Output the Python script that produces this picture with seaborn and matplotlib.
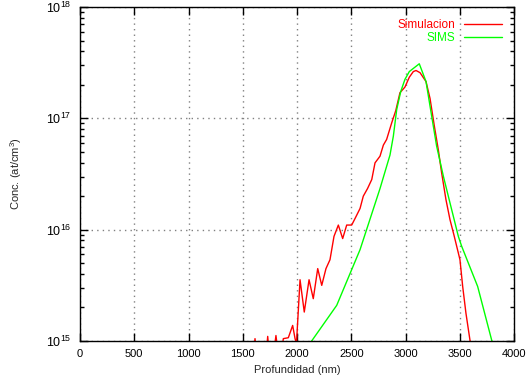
import numpy as np
import pandas as pd
import seaborn as sns
import matplotlib
matplotlib.use('Agg')
import matplotlib.pyplot as plt
from matplotlib.ticker import LogLocator, MultipleLocator, NullFormatter

# Simulacion (profundidad en nm, concentracion en at/cm3)
sim_x = [1580, 1613, 1650, 1700, 1730, 1760, 1806, 1840, 1874, 1920, 1960, 1982, 1995,
         2028, 2067, 2111, 2150, 2191, 2228, 2267, 2304, 2341, 2381, 2421, 2458, 2504,
         2535, 2581, 2611, 2650, 2689, 2719, 2765, 2796, 2826, 2873, 2910, 2949, 2995,
         3035, 3072, 3097, 3134, 3189, 3226, 3266, 3302, 3333, 3373, 3410, 3447, 3487,
         3502, 3527, 3557, 3594, 3620]
sim_y = [5.0e14, 1.05e15, 5.0e14, 5.0e14, 1.10e15, 5.0e14, 1.12e15, 6.0e14, 1.05e15, 1.07e15,
         1.38e15, 1.05e15, 9.5e14,
         3.55e15, 1.82e15, 3.55e15, 2.40e15, 4.47e15, 3.16e15, 4.47e15, 5.37e15, 8.71e15,
         1.10e16, 8.32e15, 1.10e16, 1.10e16, 1.26e16, 1.55e16, 2.00e16, 2.34e16, 2.82e16,
         3.98e16, 4.57e16, 5.75e16, 6.46e16, 9.12e16, 1.17e17, 1.70e17, 1.91e17, 2.34e17,
         2.63e17, 2.69e17, 2.57e17, 2.14e17, 1.51e17, 8.51e16, 5.25e16, 3.24e16, 1.86e16,
         1.23e16, 8.91e15, 6.17e15, 5.37e15, 3.09e15, 1.78e15, 1.02e15, 7.0e14]

# SIMS
sims_x = [2120, 2135, 2366, 2581, 2765, 2811, 2857, 2888, 2919, 2956, 2995, 3035, 3127,
          3189, 3241, 3287, 3349, 3410, 3487, 3518, 3665, 3794, 3810]
sims_y = [9.5e14, 1.0e15, 2.09e15, 6.61e15, 2.34e16, 3.31e16, 4.68e16, 6.92e16, 1.20e17,
          1.74e17, 2.24e17, 2.63e17, 3.09e17, 2.14e17, 1.05e17, 5.62e16, 3.02e16, 1.74e16,
          8.71e15, 7.08e15, 3.09e15, 1.02e15, 9.0e14]

sns.set_style("ticks")
plt.rcParams['font.family'] = ['Liberation Sans', 'DejaVu Sans']
plt.rcParams['mathtext.default'] = 'regular'
plt.rcParams['font.size'] = 8

fig = plt.figure(figsize=(5.27, 3.79), dpi=100)
ax = fig.add_axes([80 / 527, 1 - 341 / 379, 434 / 527, 334 / 379])

df_sim = pd.DataFrame({'x': sim_x, 'y': sim_y})
df_sims = pd.DataFrame({'x': sims_x, 'y': sims_y})
sns.lineplot(data=df_sim, x='x', y='y', color='#ff0000', lw=1, label='Simulacion',
             estimator=None, sort=False, ax=ax)
sns.lineplot(data=df_sims, x='x', y='y', color='#00ff00', lw=1, label='SIMS',
             estimator=None, sort=False, ax=ax)

ax.set_yscale('log')
ax.set_xlim(0, 4000)
ax.set_ylim(1e15, 1e18)
ax.xaxis.set_major_locator(MultipleLocator(500))
ax.yaxis.set_major_locator(LogLocator(base=10, numticks=10))
ax.yaxis.set_minor_locator(LogLocator(base=10, subs=np.arange(2, 10), numticks=10))
ax.yaxis.set_minor_formatter(NullFormatter())

ax.grid(True, which='major', color='#808080', linestyle=(0, (1, 3)), linewidth=1)
ax.tick_params(which='both', direction='in', top=True, right=True, colors='black',
               labelsize=8)
ax.tick_params(axis='y', which='major', labelsize=9)
ax.tick_params(which='major', length=6, width=1, pad=6)
ax.tick_params(which='minor', length=3, width=1)
for s in ax.spines.values():
    s.set_color('black')
    s.set_linewidth(1)

ax.set_xlabel('Profundidad (nm)', fontsize=8, labelpad=4)
ax.set_ylabel('Conc. (at/cm$^3$)', fontsize=8, labelpad=16)

leg = ax.legend(loc='upper right', frameon=False, markerfirst=False, labelcolor='linecolor',
                handlelength=3.2, fontsize=8.5, borderaxespad=0.6, labelspacing=0.1,
                handletextpad=0.8)
for t in leg.get_texts():
    t.set_ha('right')

fig.savefig('out.png', dpi=100)
